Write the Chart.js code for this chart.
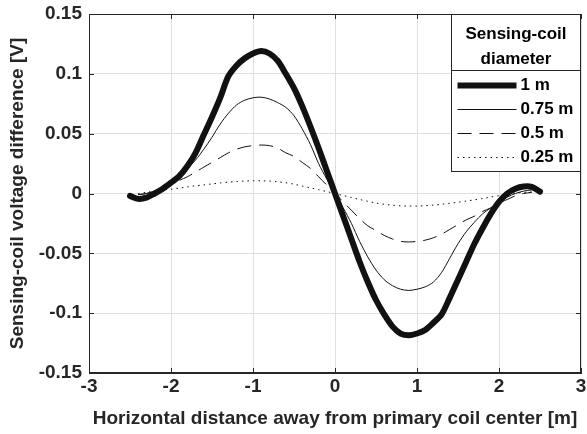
<!DOCTYPE html>
<html>
<head>
<meta charset="utf-8">
<script src="https://cdn.jsdelivr.net/npm/chart.js@4.4.1/dist/chart.umd.min.js"></script>
<style>
  html, body { margin: 0; padding: 0; background: #fff; }
</style>
</head>
<body>
<canvas id="coilChart" width="587" height="434"></canvas>
<script>
// horizontal distance [m], one sample every 0.1 m
const distance = [
  -2.5, -2.4, -2.3, -2.2, -2.1, -2.0, -1.9, -1.8, -1.7, -1.6,
  -1.5, -1.4, -1.3, -1.2, -1.1, -1.0, -0.9, -0.8, -0.7, -0.6,
  -0.5, -0.4, -0.3, -0.2, -0.1, 0.0, 0.1, 0.2, 0.3, 0.4,
  0.5, 0.6, 0.7, 0.8, 0.9, 1.0, 1.1, 1.2, 1.3, 1.4,
  1.5, 1.6, 1.7, 1.8, 1.9, 2.0, 2.1, 2.2, 2.3, 2.4, 2.5
];

// voltage difference [V] per sensing-coil diameter
const coil1m = [
  -0.002, -0.0045, -0.0035, 0.000, 0.004, 0.009, 0.0145, 0.023, 0.034, 0.049,
  0.064, 0.080, 0.098, 0.107, 0.113, 0.117, 0.119, 0.117, 0.111, 0.100,
  0.088, 0.073, 0.056, 0.038, 0.019, 0.000, -0.019, -0.038, -0.057, -0.074,
  -0.089, -0.101, -0.111, -0.117, -0.1185, -0.117, -0.114, -0.108, -0.101, -0.087,
  -0.072, -0.057, -0.042, -0.029, -0.017, -0.007, 0.000, 0.004, 0.0058, 0.0055, 0.0015
];
const coil075m = [
  null, -0.001, 0.000, 0.002, 0.005, 0.009, 0.014, 0.021, 0.028, 0.037,
  0.047, 0.058, 0.067, 0.074, 0.078, 0.080, 0.0805, 0.079, 0.076, 0.072,
  0.065, 0.054, 0.041, 0.025, 0.012, 0.000, -0.012, -0.025, -0.040, -0.053,
  -0.064, -0.072, -0.077, -0.080, -0.081, -0.080, -0.078, -0.074, -0.066, -0.054,
  -0.042, -0.032, -0.024, -0.017, -0.012, -0.007, -0.003, 0.000, 0.002, 0.003, null
];
const coil05m = [
  null, -0.001, 0.000, 0.002, 0.005, 0.008, 0.011, 0.014, 0.018, 0.022,
  0.026, 0.030, 0.034, 0.037, 0.039, 0.040, 0.0405, 0.040, 0.038, 0.034,
  0.031, 0.026, 0.021, 0.014, 0.007, 0.000, -0.007, -0.014, -0.021, -0.027,
  -0.031, -0.035, -0.038, -0.040, -0.0405, -0.040, -0.039, -0.037, -0.034, -0.030,
  -0.026, -0.022, -0.019, -0.015, -0.012, -0.008, -0.005, -0.002, 0.000, 0.001, null
];
const coil025m = [
  null, 0.000, 0.001, 0.002, 0.003, 0.0035, 0.0045, 0.0055, 0.0065, 0.0072,
  0.008, 0.0088, 0.0095, 0.010, 0.0104, 0.0106, 0.0106, 0.0104, 0.0098, 0.009,
  0.0078, 0.0062, 0.0047, 0.0032, 0.0016, 0.000, -0.0017, -0.0033, -0.005, -0.0065,
  -0.008, -0.009, -0.0098, -0.0103, -0.0105, -0.0105, -0.0102, -0.0097, -0.009, -0.0082,
  -0.0073, -0.0063, -0.0053, -0.0042, -0.003, -0.0018, -0.0007, 0.0002, 0.0009, 0.0013, null
];

const seriesLabels = ["1 m", "0.75 m", "0.5 m", "0.25 m"];
const legendTitle = ["Sensing-coil", "diameter"];
const xTitle = "Horizontal distance away from primary coil center [m]";
const yTitle = "Sensing-coil voltage difference [V]";

const FONT = "'Liberation Sans', Arial, Helvetica, sans-serif";
const AXIS = "#262626";

function toPoints(values) {
  return distance.map((x, i) => ({ x: x, y: values[i] }));
}

// box, inward ticks and the titled legend, drawn like the original
const framePlugin = {
  id: "frame",
  afterDraw(chart) {
    const ctx = chart.ctx;
    const a = chart.chartArea;
    const xs = chart.scales.x, ys = chart.scales.y;
    ctx.save();
    ctx.strokeStyle = AXIS;
    ctx.lineWidth = 1;
    ctx.strokeRect(Math.round(a.left) + 0.5, Math.round(a.top) + 0.5,
                   Math.round(a.right - a.left) - 1, Math.round(a.bottom - a.top) - 1);
    ctx.beginPath();
    xs.ticks.forEach(t => {
      const px = Math.round(xs.getPixelForValue(t.value)) + 0.5;
      ctx.moveTo(px, a.bottom); ctx.lineTo(px, a.bottom - 5);
      ctx.moveTo(px, a.top); ctx.lineTo(px, a.top + 5);
    });
    ys.ticks.forEach(t => {
      const py = Math.round(ys.getPixelForValue(t.value)) + 0.5;
      ctx.moveTo(a.left, py); ctx.lineTo(a.left + 5, py);
      ctx.moveTo(a.right, py); ctx.lineTo(a.right - 5, py);
    });
    ctx.stroke();

    // legend
    const right = Math.round(a.right) - 0.5;
    const left = right - 129;
    const top = Math.round(a.top) + 0.5;
    const bottom = top + 157;
    ctx.fillStyle = "#fff";
    ctx.fillRect(left, top, right - left, bottom - top);
    ctx.strokeStyle = AXIS;
    ctx.strokeRect(left, top, right - left, bottom - top);
    ctx.beginPath();
    ctx.moveTo(left, top + 56); ctx.lineTo(right, top + 56);
    ctx.stroke();

    ctx.fillStyle = "#000";
    ctx.font = "bold 17px " + FONT;
    ctx.textAlign = "center";
    ctx.textBaseline = "middle";
    legendTitle.forEach((line, i) => {
      ctx.fillText(line, (left + right) / 2, top + 20 + i * 25);
    });

    ctx.textAlign = "left";
    chart.data.datasets.forEach((ds, i) => {
      const y = top + 71 + i * 24;
      ctx.save();
      ctx.strokeStyle = ds.borderColor;
      ctx.lineWidth = ds.borderWidth;
      ctx.setLineDash(ds.borderDash || []);
      ctx.beginPath();
      ctx.moveTo(left + 6, y); ctx.lineTo(left + 65, y);
      ctx.stroke();
      ctx.restore();
      ctx.fillText(ds.label, left + 69, y);
    });
    ctx.restore();
  }
};

const ctx = document.getElementById("coilChart").getContext("2d");
new Chart(ctx, {
  type: "line",
  data: {
    datasets: [{
      label: seriesLabels[0],
      data: toPoints(coil1m),
      borderColor: "#111",
      borderWidth: 6,
      borderJoinStyle: "round",
      borderCapStyle: "round"
    }, {
      label: seriesLabels[1],
      data: toPoints(coil075m),
      borderColor: "#111",
      borderWidth: 1
    }, {
      label: seriesLabels[2],
      data: toPoints(coil05m),
      borderColor: "#111",
      borderWidth: 1,
      borderDash: [14, 8]
    }, {
      label: seriesLabels[3],
      data: toPoints(coil025m),
      borderColor: "#111",
      borderWidth: 1,
      borderDash: [1.5, 4]
    }]
  },
  options: {
    responsive: false,
    animation: false,
    devicePixelRatio: 1,
    layout: { padding: { left: 0, right: 6, top: 14, bottom: 0 } },
    elements: { point: { radius: 0 }, line: { tension: 0.3, fill: false } },
    plugins: { legend: { display: false }, tooltip: { enabled: false } },
    scales: {
      x: {
        type: "linear",
        min: -3,
        max: 3,
        afterFit: s => { s.height = 61; s.paddingLeft = 0; s.paddingRight = 0; },
        ticks: {
          stepSize: 1,
          maxRotation: 0,
          padding: 2,
          color: AXIS,
          font: { family: FONT, size: 19, weight: "bold" }
        },
        grid: { color: "#dfdfdf", drawTicks: false },
        border: { display: true, color: AXIS },
        title: {
          display: true,
          text: xTitle,
          color: AXIS,
          font: { family: FONT, size: 19, weight: "bold" },
          padding: { top: 0, bottom: 4 }
        }
      },
      y: {
        min: -0.15,
        max: 0.15,
        afterFit: s => { s.width = 89; s.paddingTop = 0; s.paddingBottom = 0; },
        ticks: {
          stepSize: 0.05,
          padding: 7,
          color: AXIS,
          font: { family: FONT, size: 19, weight: "bold" },
          callback: v => String(parseFloat(v.toFixed(2)))
        },
        grid: { color: "#dfdfdf", drawTicks: false },
        border: { display: true, color: AXIS },
        title: {
          display: true,
          text: yTitle,
          color: AXIS,
          font: { family: FONT, size: 19, weight: "bold" },
          padding: { top: 6, bottom: 0 }
        }
      }
    }
  },
  plugins: [framePlugin]
});
</script>
</body>
</html>
